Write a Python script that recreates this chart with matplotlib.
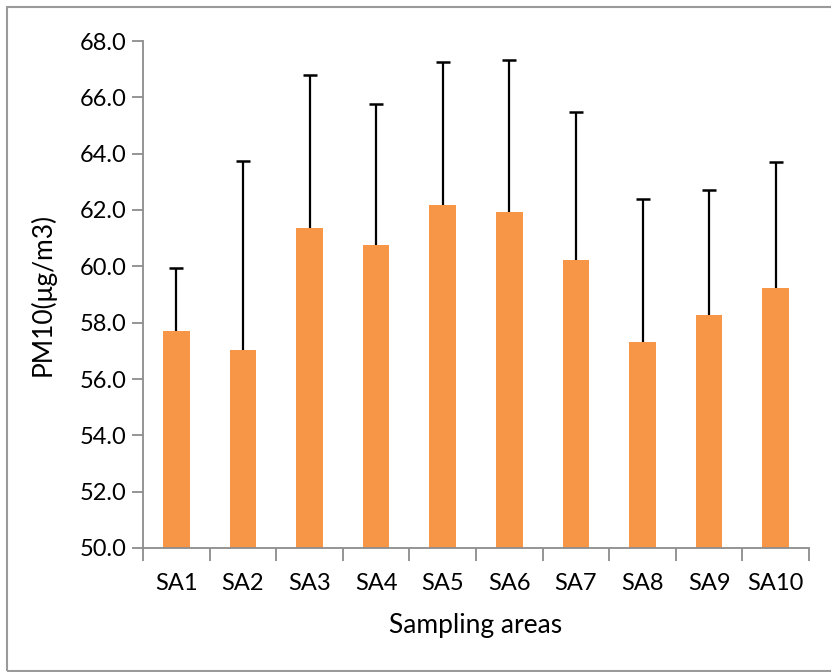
import matplotlib
matplotlib.use("Agg")
import matplotlib.pyplot as plt
from matplotlib.patches import Rectangle
import numpy as np

plt.rcParams['font.family'] = ['Lato', 'DejaVu Sans']

categories = ["SA1", "SA2", "SA3", "SA4", "SA5", "SA6", "SA7", "SA8", "SA9", "SA10"]
means = [57.70, 57.03, 61.36, 60.77, 62.17, 61.92, 60.24, 57.30, 58.28, 59.22]
upper = [59.95, 63.74, 66.81, 65.77, 67.27, 67.32, 65.49, 62.38, 62.70, 63.70]
errors = [u - m for u, m in zip(upper, means)]
yticks = [50, 52, 54, 56, 58, 60, 62, 64, 66, 68]

W, H = 831, 672
fig = plt.figure(figsize=(W / 100, H / 100), dpi=100)
ax = fig.add_axes([143 / W, 1 - 548 / H, (809 - 143) / W, (548 - 41) / H])

x = np.arange(len(categories))
ax.bar(x, [m - 50 for m in means], bottom=50, width=0.4, color="#F79646",
       edgecolor="none", zorder=2)
_, caps, _ = ax.errorbar(x, means, yerr=[np.zeros(len(errors)), errors], fmt="none",
                         ecolor="black", elinewidth=1.6, capsize=5, capthick=1.8,
                         zorder=3)
caps[0].set_visible(False)

ax.set_ylim(50, 68)
ax.set_xlim(-0.5, len(categories) - 0.5)
ax.set_yticks(yticks)
ax.set_yticklabels([f"{v:.1f}" for v in yticks])
ax.set_xticks(x)
ax.set_xticklabels(categories)
ax.set_xticks(np.arange(-0.5, len(categories), 1.0), minor=True)

grey = "#8c8c8c"
for s in ["top", "right"]:
    ax.spines[s].set_visible(False)
for s in ["left", "bottom"]:
    ax.spines[s].set_color(grey)
    ax.spines[s].set_linewidth(1.3)

ax.tick_params(axis="y", which="major", length=8, width=1.3, color=grey,
               labelsize=17, pad=4, direction="out")
ax.tick_params(axis="x", which="major", length=0, labelsize=17, pad=18)
ax.tick_params(axis="x", which="minor", length=9, width=1.3, color=grey,
               direction="out")

ax.set_xlabel("Sampling areas", fontsize=19, labelpad=14)
ax.set_ylabel("PM10(μg/m3)", fontsize=19, labelpad=17)

fig.patches.append(Rectangle((7 / W, 1 - 671 / H), (840 - 7) / W, (671 - 7) / H,
                             transform=fig.transFigure, fill=False,
                             edgecolor="#9a9a9a", linewidth=1.5))

fig.savefig("out.png", dpi=100)
